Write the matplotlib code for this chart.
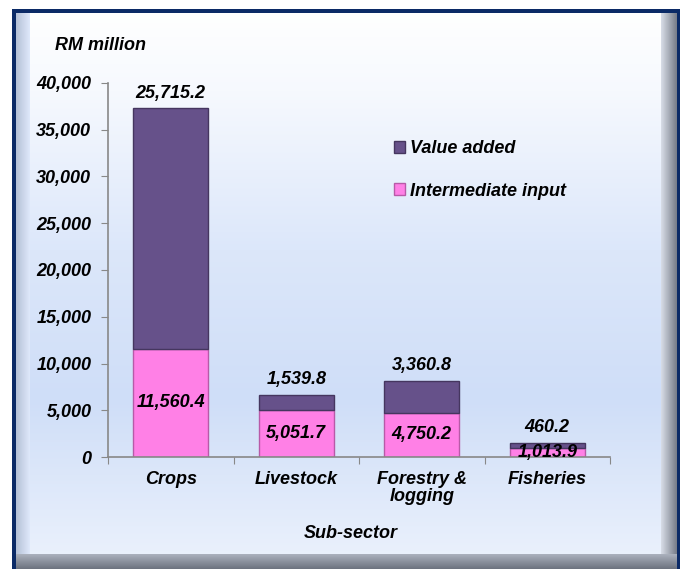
import numpy as np
import matplotlib.pyplot as plt
from matplotlib.patches import Rectangle, Patch

# data
categories = ['Crops', 'Livestock', 'Forestry &\nlogging', 'Fisheries']
intermediate = [11560.4, 5051.7, 4750.2, 1013.9]
value_added = [25715.2, 1539.8, 3360.8, 460.2]
yticks = [0, 5000, 10000, 15000, 20000, 25000, 30000, 35000, 40000]

plt.rcParams['font.family'] = ['Liberation Sans', 'DejaVu Sans']
plt.rcParams['font.weight'] = 'bold'
plt.rcParams['font.style'] = 'italic'
FS = 13

W, H = 683, 569
fig = plt.figure(figsize=(W / 100, H / 100), dpi=100)
fig.patch.set_facecolor('white')

# background panel with gradient
bg = fig.add_axes([0, 0, 1, 1], zorder=-1)
bg.set_xlim(0, W)
bg.set_ylim(H, 0)
bg.axis('off')
ys = np.linspace(9, 569, 300)
stops_y = [9, 90, 250, 400, 569]
stops_c = np.array([[255, 255, 255], [246, 249, 254], [220, 231, 250], [207, 222, 248], [236, 242, 252]]) / 255.
grad = np.stack([np.interp(ys, stops_y, stops_c[:, k]) for k in range(3)], axis=-1)
grad = np.repeat(grad[:, None, :], 2, axis=1)
bg.imshow(grad, extent=[12, 680, 569, 9], aspect='auto', interpolation='bilinear')

# bevels (horizontal / vertical gradients)
def hband(x0, x1, y0, y1, c0, c1):
    g = np.stack([np.linspace(c0[k], c1[k], 20) for k in range(3)], axis=-1) / 255.
    bg.imshow(g[None, :, :], extent=[x0, x1, y1, y0], aspect='auto', interpolation='bilinear')

def vband(x0, x1, y0, y1, c0, c1):
    g = np.stack([np.linspace(c0[k], c1[k], 20) for k in range(3)], axis=-1) / 255.
    bg.imshow(g[:, None, :], extent=[x0, x1, y1, y0], aspect='auto', interpolation='bilinear')

hband(15, 30, 13, 554, (178, 190, 212), (222, 232, 250))
hband(661, 677, 13, 569, (215, 220, 230), (120, 126, 138))
vband(15, 677, 554, 569, (170, 176, 188), (110, 116, 128))
bg.add_patch(Rectangle((12, 9), 4, 560, color='#0b2a66', lw=0))
bg.add_patch(Rectangle((12, 9), 668, 4, color='#0b2a66', lw=0))
bg.add_patch(Rectangle((677, 9), 3, 560, color='#0b2a66', lw=0))
bg.set_xlim(0, W)
bg.set_ylim(H, 0)

# main axes
ax = fig.add_axes([108 / W, 1 - 457 / H, (610 - 108) / W, (457 - 83) / H])
ax.patch.set_alpha(0)
x = np.arange(len(categories))
purple = '#66518a'
pink = '#ff80e6'
ax.bar(x, intermediate, width=0.6, color=pink, edgecolor='#b85aa8', linewidth=1.0, label='Intermediate input')
ax.bar(x, value_added, width=0.6, bottom=intermediate, color=purple, edgecolor='#45365f', linewidth=1.0, label='Value added')

for i in range(len(categories)):
    ax.text(x[i], intermediate[i] / 2, f'{intermediate[i]:,.1f}', ha='center', va='center', fontsize=FS)
    ax.annotate(f'{value_added[i]:,.1f}', (x[i], intermediate[i] + value_added[i]), xytext=(0, 5),
                textcoords='offset points', ha='center', va='bottom', fontsize=FS)

ax.set_ylim(0, 40000)
ax.set_xlim(-0.5, 3.5)
ax.set_yticks(yticks)
ax.set_yticklabels([f'{v:,}' for v in yticks], fontsize=FS)
ax.set_xticks(np.arange(-0.5, 4, 1))
ax.set_xticklabels([])
ax.set_xticks(x, minor=True)
ax.set_xticklabels(categories, minor=True, fontsize=FS, linespacing=1.0)
ax.tick_params(axis='x', which='minor', length=0, pad=10)
ax.tick_params(axis='x', which='major', length=5, color='#888888', direction='out')
ax.tick_params(axis='y', length=5, color='#888888', pad=7)
for s in ['top', 'right']:
    ax.spines[s].set_visible(False)
for s in ['left', 'bottom']:
    ax.spines[s].set_color('#888888')
    ax.spines[s].set_linewidth(1.2)

fig.text(55 / W, 1 - 45 / H, 'RM million', fontsize=FS, va='center', ha='left')
fig.text(351 / W, 1 - 534 / H, 'Sub-sector', fontsize=FS, va='center', ha='center')

handles = [Patch(facecolor=purple, edgecolor='#45365f'), Patch(facecolor=pink, edgecolor='#b85aa8')]
fig.legend(handles, ['Value added', 'Intermediate input'], loc='upper left', bbox_to_anchor=(378 / W, 1 - 124 / H),
           frameon=False, fontsize=FS, handlelength=0.6, handleheight=0.6, handletextpad=0.3, labelspacing=1.4)

fig.savefig('out.png', dpi=100)
